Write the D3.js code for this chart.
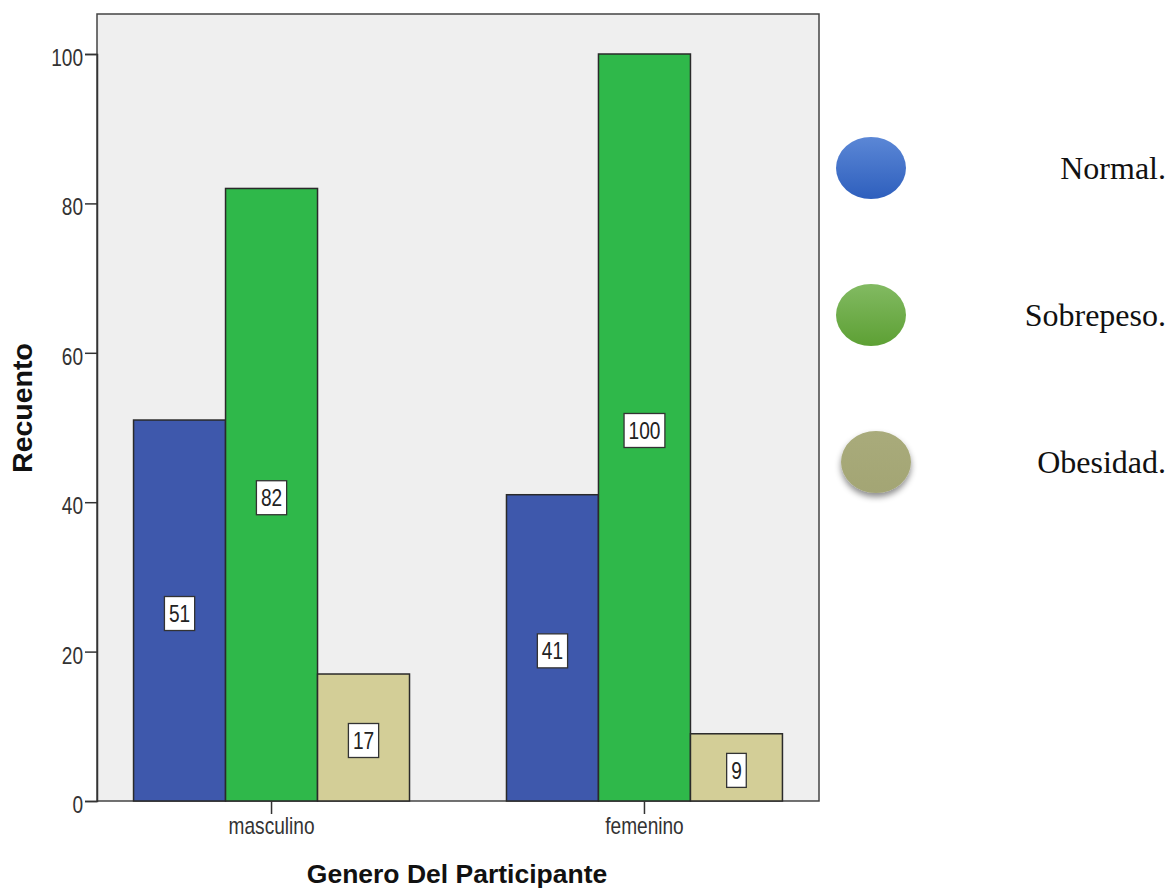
<!DOCTYPE html>
<html><head><meta charset="utf-8">
<script src="https://cdn.jsdelivr.net/npm/d3@7"></script>
<style>body{margin:0;background:#fff}svg{display:block}</style>
</head><body>
<svg id="c" width="1170" height="888"></svg>
<script>
const categories = ["masculino", "femenino"];
const series = ["Normal.", "Sobrepeso.", "Obesidad."];
const normal = [51, 41];
const sobrepeso = [82, 100];
const obesidad = [17, 9];
const yTicks = [0, 20, 40, 60, 80, 100];
const barColors = ["#3e58ac", "#2fb84a", "#d3ce97"];

const values = [normal, sobrepeso, obesidad];
const svg = d3.select("#c");
const defs = svg.append("defs");
const NARROW = "'Liberation Sans Narrow', 'Arial Narrow', sans-serif";
const SANS = "'Liberation Sans', Arial, sans-serif";
const SX = 0.83;

const L = 97, R = 819, T = 14, B = 801;
const x = d3.scaleBand().domain(categories).range([L, R]).paddingInner(0.26).paddingOuter(0.098);
const xs = d3.scaleBand().domain(series).range([0, x.bandwidth()]);
const y = d3.scaleLinear().domain([0, 100]).range([B, 54]);

svg.append("rect").attr("x", L).attr("y", T).attr("width", R - L).attr("height", B - T)
  .attr("fill", "#efefef").attr("stroke", "#444").attr("stroke-width", 1.5);

const data = [];
categories.forEach((c, ci) => series.forEach((s, si) => data.push({c, s, si, v: values[si][ci]})));

svg.selectAll("rect.bar").data(data).join("rect").attr("class", "bar")
  .attr("x", d => x(d.c) + xs(d.s)).attr("width", xs.bandwidth())
  .attr("y", d => y(d.v)).attr("height", d => y(0) - y(d.v))
  .attr("fill", d => barColors[d.si]).attr("stroke", "#2a2a2a").attr("stroke-width", 1.5);

const lab = svg.selectAll("g.lab").data(data).join("g").attr("class", "lab")
  .attr("transform", d => `translate(${x(d.c) + xs(d.s) + xs.bandwidth() / 2},${(y(d.v) + y(0)) / 2 + 3})`);
lab.each(function(d) {
  const g = d3.select(this);
  const t = String(d.v);
  const r = g.append("rect");
  const tx = g.append("text").attr("text-anchor", "middle").attr("dy", "0.36em")
    .attr("transform", `scale(${SX},1)`)
    .attr("font-family", NARROW).attr("font-size", 23).attr("fill", "#222").text(t);
  const w = tx.node().getComputedTextLength() * SX + 9;
  r.attr("x", -w / 2).attr("y", -17).attr("width", w).attr("height", 34)
    .attr("fill", "#fff").attr("stroke", "#333").attr("stroke-width", 1.3);
});

// y axis
const ya = svg.append("g").attr("transform", `translate(${L},0)`)
  .call(d3.axisLeft(y).tickValues(yTicks).tickSize(12).tickPadding(2));
ya.select(".domain").attr("stroke", "#333").attr("stroke-width", 1.5);
ya.selectAll(".tick line").attr("stroke", "#333").attr("stroke-width", 1.5);
ya.selectAll(".tick text").attr("font-family", NARROW).attr("font-size", 23).attr("fill", "#333").attr("dy", "0.5em")
  .attr("x", -14 / SX).attr("transform", `scale(${SX},1)`);

// x axis
const xa = svg.append("g").attr("transform", `translate(0,${B})`)
  .call(d3.axisBottom(x).tickSize(13).tickPadding(4));
xa.select(".domain").remove();
xa.selectAll(".tick line").attr("stroke", "#333").attr("stroke-width", 1.5);
xa.selectAll(".tick text").attr("font-family", NARROW).attr("font-size", 23).attr("fill", "#333")
  .attr("transform", `scale(${SX},1)`);

svg.append("text").attr("x", 457).attr("y", 883).attr("text-anchor", "middle")
  .attr("font-family", SANS).attr("font-weight", "bold").attr("font-size", 26.5).attr("fill", "#111")
  .text("Genero Del Participante");
svg.append("text").attr("transform", "translate(32,408) rotate(-90)").attr("text-anchor", "middle")
  .attr("font-family", SANS).attr("font-weight", "bold").attr("font-size", 28.5).attr("fill", "#111")
  .text("Recuento");

// legend
const legColors = [["#5b87d6", "#2e5fbd"], ["#82ba62", "#5da034"], ["#a9ab7b", "#a3a574"]];
legColors.forEach((c, i) => {
  const gr = defs.append("linearGradient").attr("id", "lg" + i).attr("x1", 0).attr("y1", 0).attr("x2", 0).attr("y2", 1);
  gr.append("stop").attr("offset", "0%").attr("stop-color", c[0]);
  gr.append("stop").attr("offset", "100%").attr("stop-color", c[1]);
});
const sh = defs.append("filter").attr("id", "sh").attr("x", "-30%").attr("y", "-30%").attr("width", "160%").attr("height", "170%");
sh.append("feDropShadow").attr("dx", 0).attr("dy", 4).attr("stdDeviation", 3).attr("flood-color", "#000").attr("flood-opacity", 0.45);

const legY = d3.scalePoint().domain(series).range([168, 462]);
const leg = svg.selectAll("g.leg").data(series).join("g").attr("class", "leg");
leg.append("ellipse").attr("cx", (d, i) => i === 2 ? 876 : 871).attr("cy", d => legY(d))
  .attr("rx", 35).attr("ry", 31).attr("fill", (d, i) => `url(#lg${i})`)
  .attr("filter", (d, i) => i === 2 ? "url(#sh)" : null);
leg.append("text").attr("x", 1166).attr("y", d => legY(d) + 11).attr("text-anchor", "end")
  .attr("font-family", "'Liberation Serif', 'Times New Roman', serif").attr("font-size", 32).attr("fill", "#111").text(d => d);
</script>
</body></html>
